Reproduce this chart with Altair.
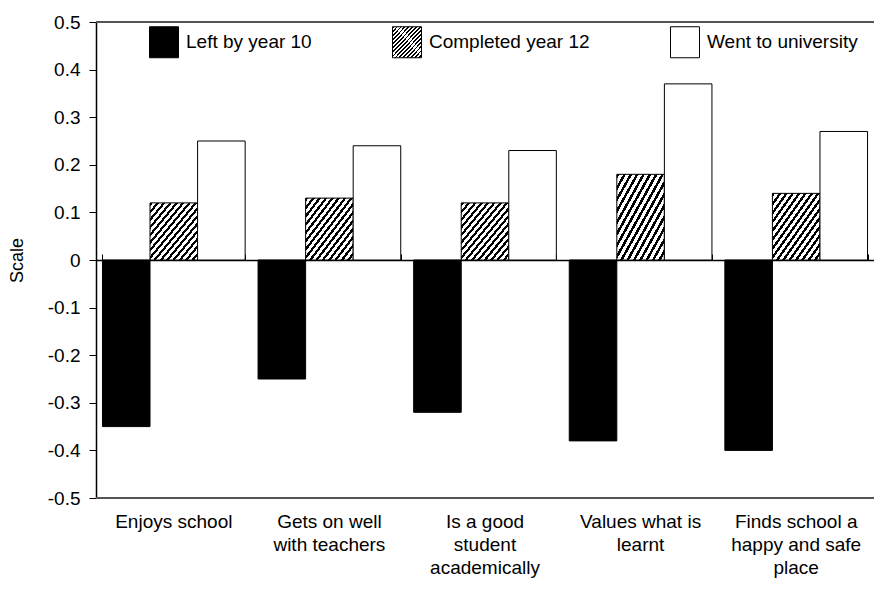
import altair as alt
import pandas as pd

# ---- data ----
categories = [
    "Enjoys school",
    "Gets on well|with teachers",
    "Is a good|student|academically",
    "Values what is|learnt",
    "Finds school a|happy and safe|place",
]
groups = ["Left by year 10", "Completed year 12", "Went to university"]
left_by_year_10 = [-0.35, -0.25, -0.32, -0.38, -0.40]
completed_year_12 = [0.12, 0.13, 0.12, 0.18, 0.14]
went_to_university = [0.25, 0.24, 0.23, 0.37, 0.27]
y_ticks = [0.5, 0.4, 0.3, 0.2, 0.1, 0.0, -0.1, -0.2, -0.3, -0.4, -0.5]

rows = []
for g, vals in zip(groups, [left_by_year_10, completed_year_12, went_to_university]):
    for c, v in zip(categories, vals):
        rows.append({"cat": c, "group": g, "value": v})
df = pd.DataFrame(rows)

# ---- style ----
FONT = "Liberation Sans, Arial, Helvetica, sans-serif"
FS = 19
W, H = 778, 476

# diagonal hatch as a hard-stop linear gradient
N = 15
stops = []
for i in range(N):
    stops.append("{offset: %.5f, color: 'black'}" % (i / N))
    stops.append("{offset: %.5f, color: 'black'}" % ((i + 0.45) / N))
    stops.append("{offset: %.5f, color: 'white'}" % ((i + 0.45) / N))
    stops.append("{offset: %.5f, color: 'white'}" % ((i + 1) / N))
hatch_expr = "{gradient: 'linear', x1: 0, y1: 0, x2: 1, y2: 1, stops: [" + ", ".join(stops) + "]}"

fill_range = ["black", alt.ExprRef(hatch_expr), "white"]

xscale = alt.Scale(paddingInner=0.083, paddingOuter=0.0415)

y_label_expr = ("datum.value == 0 ? '0' : (datum.value < 0 ? '-' : '') + "
                "format(abs(datum.value), '.1f')")

bars = alt.Chart(df).mark_bar(stroke="black", strokeWidth=1).encode(
    x=alt.X("cat:N", sort=categories, scale=xscale,
            axis=alt.Axis(title=None, labelExpr="split(datum.label, '|')",
                          domain=False, ticks=False, tickSize=0, labelAngle=0,
                          labelPadding=14, labelFontSize=FS, labelFont=FONT,
                          labelColor="black", labelLineHeight=23,
                          labelBaseline="top", labelLimit=300)),
    xOffset=alt.XOffset("group:N", sort=groups,
                        scale=alt.Scale(paddingInner=0, paddingOuter=0)),
    y=alt.Y("value:Q",
            scale=alt.Scale(domain=[-0.5, 0.5], nice=False, zero=False),
            axis=alt.Axis(values=y_ticks, labelExpr=y_label_expr, title="Scale",
                          grid=False, tickSize=7, tickColor="black",
                          domainColor="black", domainWidth=1.5,
                          labelFontSize=FS, labelFont=FONT, labelColor="black",
                          labelPadding=9, titleFont=FONT, titleFontSize=18,
                          titleFontWeight="normal", titleColor="black",
                          titleX=-79, titleY=H / 2, titleAngle=270,
                          titleAlign="center", titleBaseline="middle")),
    fill=alt.Fill("group:N", sort=groups,
                  scale=alt.Scale(domain=groups, range=fill_range),
                  legend=alt.Legend(title=None, orient="none", legendX=52,
                                    legendY=4, direction="horizontal",
                                    symbolType="M-0.935,-1h1.87v2h-1.87z",
                                    symbolSize=961, symbolStrokeColor="black",
                                    symbolStrokeWidth=1, symbolOpacity=1,
                                    labelFont=FONT, labelFontSize=FS,
                                    labelColor="black", labelOffset=6,
                                    columnPadding=78, labelLimit=300)),
)

zero_axis = alt.Chart(df).mark_tick(opacity=0).encode(
    x=alt.X("cat:N", sort=categories, scale=xscale,
            axis=alt.Axis(title=None, labels=False, domain=True,
                          domainColor="black", domainWidth=1.5, ticks=True,
                          tickBand="extent", tickSize=6, tickColor="black",
                          offset=-H / 2)),
)

top_line = alt.Chart(df).mark_rule(color="#555555", strokeWidth=1.5).encode(
    y=alt.datum(0.5))
bottom_line = alt.Chart(df).mark_rule(color="#555555", strokeWidth=1.5).encode(
    y=alt.datum(-0.5))

chart = alt.layer(top_line, bottom_line, bars, zero_axis).resolve_axis(
    x="independent"
).properties(
    width=W, height=H,
    autosize=alt.AutoSizeParams(type="none"),
    padding={"left": 88, "top": 14, "right": 0, "bottom": 88},
).configure_view(strokeWidth=0)

chart.save("out.html", embed_options={"renderer": "svg", "actions": False})
